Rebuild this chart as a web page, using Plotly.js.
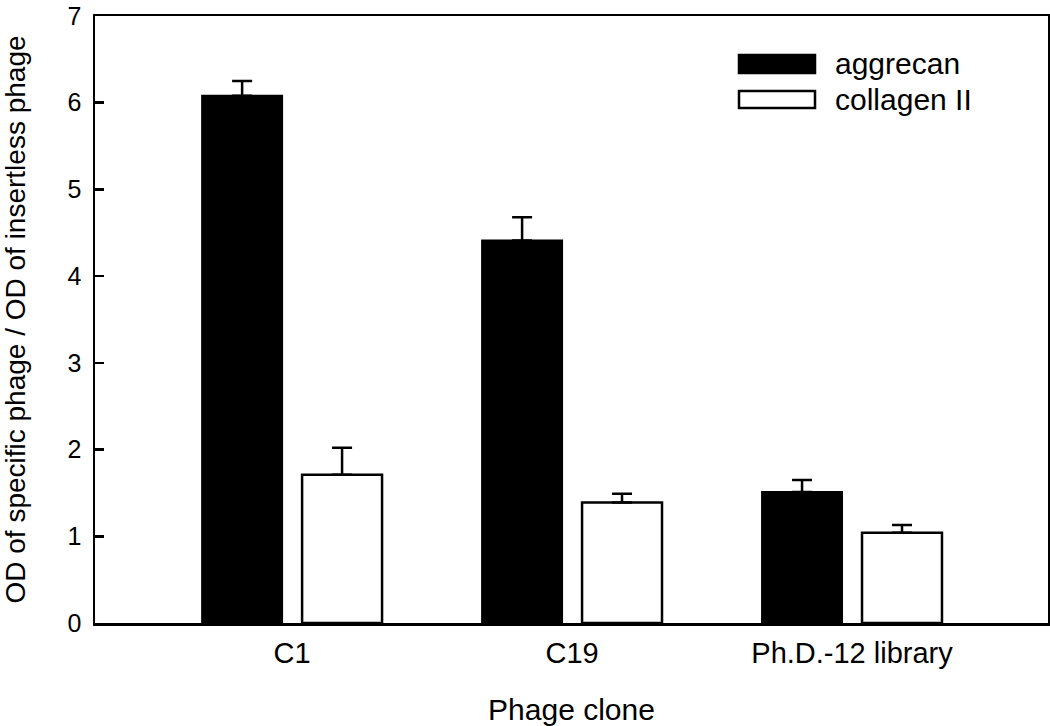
<!DOCTYPE html>
<html>
<head>
<meta charset="utf-8">
<script src="https://cdn.plot.ly/plotly-3.0.1.min.js"></script>
<style>html,body{margin:0;padding:0;background:#fff;}#chart{width:1050px;height:726px;}</style>
</head>
<body>
<div id="chart"></div>
<script>
const categories = ["C1", "C19", "Ph.D.-12 library"];
const seriesNames = ["aggrecan", "collagen II"];
const aggrecan = [6.08, 4.41, 1.51];
const aggrecanErr = [0.17, 0.27, 0.14];
const collagen = [1.71, 1.39, 1.04];
const collagenErr = [0.31, 0.10, 0.09];
const yTicks = [0, 1, 2, 3, 4, 5, 6, 7];

const F = "Liberation Sans, Arial, sans-serif";
const zeros = [0, 0, 0];

const traces = [
  {
    type: "bar", name: seriesNames[0], x: categories, y: aggrecan,
    marker: {color: "#000000", line: {color: "#000000", width: 2}},
    error_y: {type: "data", array: aggrecanErr, arrayminus: zeros, symmetric: false,
              color: "#000000", thickness: 2.5, width: 10},
    showlegend: false
  },
  {
    type: "bar", name: seriesNames[1], x: categories, y: collagen,
    marker: {color: "#ffffff", line: {color: "#000000", width: 2.5}},
    error_y: {type: "data", array: collagenErr, arrayminus: zeros, symmetric: false,
              color: "#000000", thickness: 2.5, width: 10},
    showlegend: false
  }
];

const T = 16, B = 103, H = 726 - T - B, L = 95, W = 1050 - 95 - 2;
const y0px = 726 - B;

// custom legend (swatches + labels) in paper coordinates
const legColors = ["#000000", "#ffffff"];
const shapes = [];
const annotations = [];
const lx0 = (739 - L) / W, lx1 = (815 - L) / W;
const rows = [[55, 73], [91, 108]];
seriesNames.forEach((nm, i) => {
  const y0 = (y0px - rows[i][1]) / H, y1 = (y0px - rows[i][0]) / H;
  shapes.push({type: "rect", xref: "paper", yref: "paper", x0: lx0, x1: lx1, y0: y0, y1: y1,
               fillcolor: legColors[i], line: {color: "#000000", width: 2.5}});
  annotations.push({xref: "paper", yref: "paper", x: (833 - L) / W, y: (y0 + y1) / 2,
                    xanchor: "left", yanchor: "middle", text: nm, showarrow: false,
                    font: {family: F, size: 30, color: "#000000"}});
});

const layout = {
  width: 1050, height: 726,
  margin: {l: L, r: 2, t: T, b: B},
  paper_bgcolor: "#ffffff", plot_bgcolor: "#ffffff",
  barmode: "group", bargap: 0.286, bargroupgap: 0.2,
  showlegend: false,
  font: {family: F, color: "#000000"},
  xaxis: {
    type: "category", range: [-0.704, 2.70],
    showline: true, linecolor: "#000000", linewidth: 2.5, mirror: true,
    ticks: "", showgrid: false, zeroline: false,
    ticklabelstandoff: 3,
    tickfont: {family: F, size: 29, color: "#000000"},
    title: {text: "Phage clone", font: {family: F, size: 30, color: "#000000"}, standoff: 32},
    automargin: false
  },
  yaxis: {
    range: [0, 7], tickvals: yTicks, ticktext: yTicks.map(String),
    showline: true, linecolor: "#000000", linewidth: 2.5, mirror: true,
    ticks: "inside", ticklen: 9, tickwidth: 2.5, tickcolor: "#000000",
    ticklabelstandoff: 6, ticklabeloverflow: "allow",
    showgrid: false, zeroline: false,
    tickfont: {family: F, size: 25, color: "#000000"},
    title: {text: "OD of specific phage / OD of insertless phage",
            font: {family: F, size: 28, color: "#000000"}, standoff: 34},
    automargin: false
  },
  shapes: shapes,
  annotations: annotations
};

Plotly.newPlot("chart", traces, layout, {displayModeBar: false, staticPlot: true});
</script>
</body>
</html>
